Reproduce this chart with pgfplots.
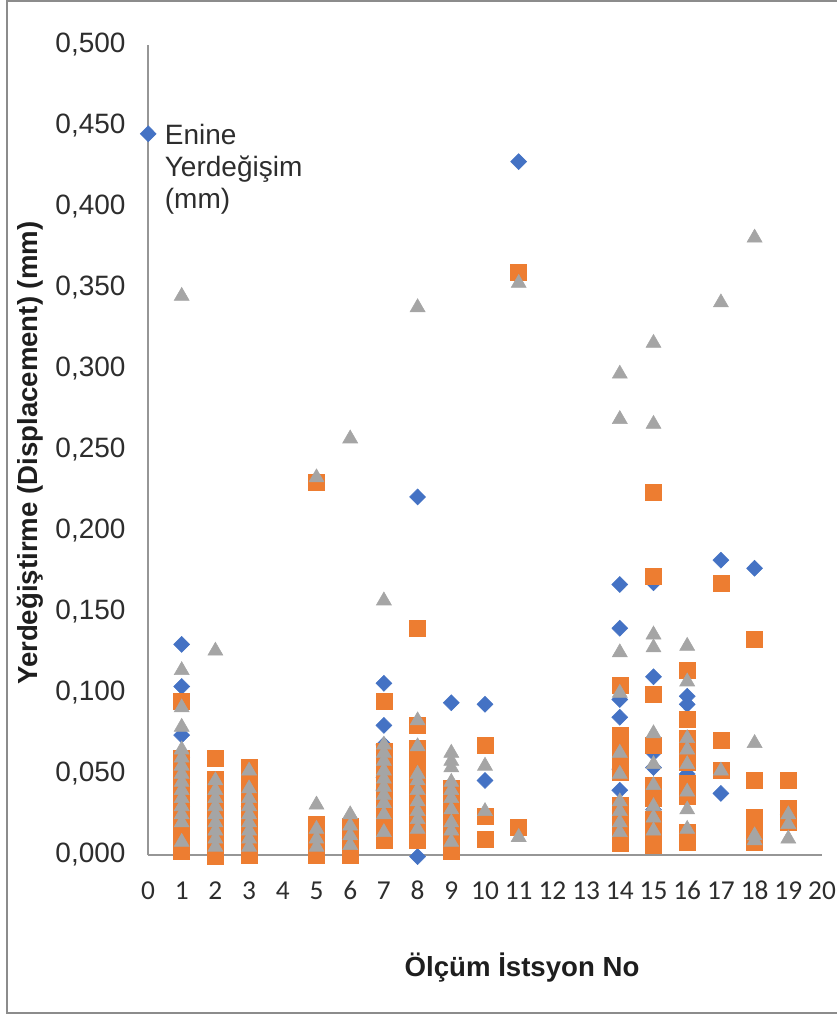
\documentclass[border=0pt]{standalone}
\usepackage{pgfplots}
\pgfplotsset{compat=1.18}
\usepackage{fontspec}
\setmainfont{Liberation Sans}
\newfontfamily\carlito{Carlito}
\definecolor{cblue}{HTML}{4472C4}
\definecolor{corange}{HTML}{ED7D31}
\definecolor{cgray}{HTML}{A5A5A5}
\definecolor{axgray}{RGB}{150,150,150}
\definecolor{framegray}{RGB}{140,140,140}
\definecolor{labelgray}{RGB}{45,45,45}
\definecolor{titlegray}{RGB}{30,30,30}
\begin{document}
\begin{tikzpicture}
\useasboundingbox (-111pt,-120.75pt) rectangle (516.75pt,641.25pt);
\draw[framegray, line width=1.5pt] (516.75pt,640.5pt) -- (-106.1pt,640.5pt) -- (-106.1pt,-118.5pt) -- (516.75pt,-118.5pt);
\begin{axis}[
  scale only axis,
  width=505.5pt, height=607.5pt,
  xmin=0, xmax=20, ymin=0, ymax=0.5,
  clip=false,
  axis x line*=bottom, axis y line*=left,
  axis line style={axgray, line width=1.2pt},
  major tick length=0pt,
  xtick={0,1,...,20},
  ytick={0,0.05,...,0.5},
  /pgf/number format/assume math mode=true,
  yticklabel style={font=\fontsize{21}{25}\selectfont, text=labelgray, xshift=-13.3pt,
    /pgf/number format/.cd, fixed, fixed zerofill, precision=3, use comma},
  xticklabel style={font=\carlito\fontsize{20.5}{24}\selectfont, text=labelgray, yshift=-17pt,
    text height=13pt, text depth=0pt},
  xlabel={Ölçüm İstsyon No},
  ylabel={Yerdeğiştirme (Displacement) (mm)},
  xlabel style={font=\bfseries\fontsize{20.7}{24}\selectfont, text=titlegray, at={(axis description cs:0.555,-0.1494)}, anchor=base},
  ylabel style={font=\bfseries\fontsize{20.7}{24}\selectfont, text=titlegray, at={(axis description cs:-0.164,0.496)}, anchor=base},
  legend style={at={(axis description cs:-0.0119,0.909)}, anchor=north west, draw=none, fill=none, inner sep=0pt,
    nodes={inner sep=2pt}, font=\fontsize{21}{24}\selectfont, text=labelgray,
    /tikz/every odd column/.append style={column sep=4.5pt}},
  legend cell align=left,
  legend image code/.code={\draw[#1] plot coordinates {(0pt,0pt)};},
]
\addplot[only marks, mark=diamond*, mark size=6pt, mark options={xscale=1.33, fill=cblue, draw=cblue}] coordinates {
(1,0.130) (1,0.104) (1,0.074) (1,0.060) (1,0.045) (1,0.030)
(2,0.040) (2,0.020) (3,0.030) (5,0.010) (6,0.010)
(7,0.106) (7,0.080) (7,0.068) (7,0.048) (7,0.040)
(8,0.221) (8,0.050) (8,-0.001)
(9,0.094) (9,0.030)
(10,0.093) (10,0.046)
(11,0.428)
(14,0.167) (14,0.140) (14,0.096) (14,0.085) (14,0.053) (14,0.040)
(15,0.168) (15,0.110) (15,0.063) (15,0.054) (15,0.028)
(16,0.098) (16,0.093) (16,0.050)
(17,0.182) (17,0.038)
(18,0.177) (18,0.010)
(19,0.025)
};
\addlegendentry{\raisebox{0pt}[\height][0pt]{\begin{tabular}[t]{@{}l@{}}Enine\\Yerdeğişim\\(mm)\end{tabular}}}
\addplot[only marks, mark=square*, mark size=6pt, mark options={fill=corange, draw=corange}, forget plot] coordinates {
(1,0.095) (1,0.060) (1,0.055) (1,0.050) (1,0.045) (1,0.040) (1,0.035) (1,0.030) (1,0.025) (1,0.020) (1,0.015) (1,0.010) (1,0.005) (1,0.002)
(2,0.060) (2,0.047) (2,0.042) (2,0.037) (2,0.032) (2,0.027) (2,0.022) (2,0.017) (2,0.012) (2,0.007) (2,0.002) (2,-0.001)
(3,0.054) (3,0.047) (3,0.040) (3,0.035) (3,0.030) (3,0.025) (3,0.020) (3,0.015) (3,0.010) (3,0.005) (3,0.000)
(5,0.230) (5,0.019) (5,0.014) (5,0.009) (5,0.004) (5,0.000)
(6,0.018) (6,0.013) (6,0.008) (6,0.003) (6,0.000)
(7,0.095) (7,0.064) (7,0.058) (7,0.052) (7,0.046) (7,0.040) (7,0.034) (7,0.028) (7,0.022) (7,0.016) (7,0.009)
(8,0.140) (8,0.080) (8,0.066) (8,0.060) (8,0.054) (8,0.048) (8,0.042) (8,0.036) (8,0.030) (8,0.024) (8,0.018) (8,0.012) (8,0.009)
(9,0.041) (9,0.036) (9,0.031) (9,0.026) (9,0.021) (9,0.016) (9,0.011) (9,0.006) (9,0.002)
(10,0.068) (10,0.024) (10,0.010)
(11,0.360) (11,0.017)
(14,0.105) (14,0.074) (14,0.068) (14,0.062) (14,0.056) (14,0.051) (14,0.031) (14,0.025) (14,0.019) (14,0.013) (14,0.007)
(15,0.224) (15,0.172) (15,0.099) (15,0.068) (15,0.043) (15,0.035) (15,0.022) (15,0.013) (15,0.006)
(16,0.114) (16,0.084) (16,0.072) (16,0.063) (16,0.057) (16,0.044) (16,0.036) (16,0.014) (16,0.008)
(17,0.168) (17,0.071) (17,0.052)
(18,0.133) (18,0.046) (18,0.023) (18,0.016) (18,0.008)
(19,0.046) (19,0.029) (19,0.020)
};
\addplot[only marks, mark=triangle*, mark size=6.5pt, mark options={fill=cgray, draw=cgray}, forget plot] coordinates {
(1,0.345) (1,0.114) (1,0.091) (1,0.079) (1,0.065) (1,0.060) (1,0.055) (1,0.050) (1,0.045) (1,0.040) (1,0.035) (1,0.030) (1,0.025) (1,0.020) (1,0.008)
(2,0.126) (2,0.046) (2,0.040) (2,0.035) (2,0.030) (2,0.025) (2,0.020) (2,0.015) (2,0.010) (2,0.005)
(3,0.052) (3,0.041) (3,0.035) (3,0.030) (3,0.025) (3,0.020) (3,0.015) (3,0.010) (3,0.005)
(5,0.233) (5,0.031) (5,0.016) (5,0.010) (5,0.005)
(6,0.257) (6,0.025) (6,0.018) (6,0.012) (6,0.006)
(7,0.157) (7,0.068) (7,0.063) (7,0.058) (7,0.052) (7,0.047) (7,0.042) (7,0.037) (7,0.032) (7,0.025) (7,0.014)
(8,0.338) (8,0.083) (8,0.067) (8,0.050) (8,0.046) (8,0.040) (8,0.033) (8,0.027) (8,0.022) (8,0.016)
(9,0.063) (9,0.058) (9,0.054) (9,0.045) (9,0.040) (9,0.035) (9,0.028) (9,0.020) (9,0.015) (9,0.008)
(10,0.055) (10,0.027)
(11,0.353) (11,0.011)
(14,0.297) (14,0.269) (14,0.125) (14,0.100) (14,0.063) (14,0.050) (14,0.033) (14,0.027) (14,0.020) (14,0.014)
(15,0.316) (15,0.266) (15,0.136) (15,0.128) (15,0.075) (15,0.056) (15,0.043) (15,0.030) (15,0.023) (15,0.015)
(16,0.129) (16,0.107) (16,0.072) (16,0.065) (16,0.056) (16,0.039) (16,0.028) (16,0.016)
(17,0.341) (17,0.052)
(18,0.381) (18,0.069) (18,0.012) (18,0.009)
(19,0.025) (19,0.019) (19,0.010)
};
\end{axis}
\end{tikzpicture}
\end{document}
